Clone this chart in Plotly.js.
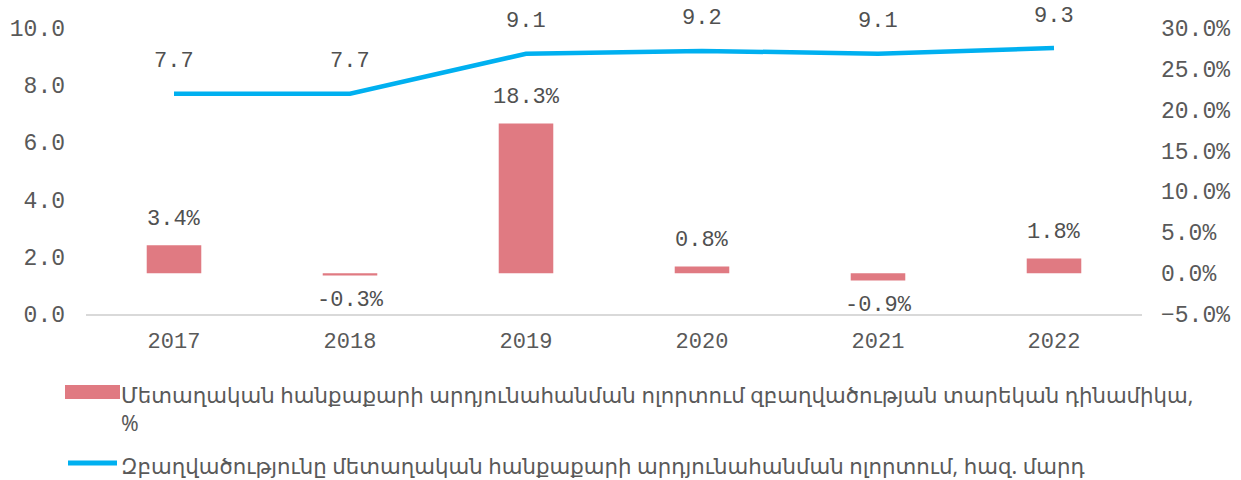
<!DOCTYPE html>
<html><head><meta charset="utf-8">
<script src="https://cdn.plot.ly/plotly-3.0.1.min.js"></script>
<style>html,body{margin:0;padding:0;background:#fff}#chart{width:1241px;height:480px}</style>
</head><body><div id="chart"></div>
<script>
const years = ['2017','2018','2019','2020','2021','2022'];
const dynamicsPct = [3.4, -0.3, 18.3, 0.8, -0.9, 1.8];
const employment = [7.7, 7.7, 9.1, 9.2, 9.1, 9.3];
const barName = 'Մետաղական հանքաքարի արդյունահանման ոլորտում զբաղվածության տարեկան դինամիկա,<br>%';
const lineName = 'Զբաղվածությունը մետաղական հանքաքարի արդյունահանման ոլորտում, հազ. մարդ';

const mono = 'Liberation Mono, Courier New, monospace';
const grey = '#595959';
const labelGrey = '#505050';
const barColor = '#E07A82';
const lineColor = '#00B0F0';

const L = 86, R = 99, T = 28, B = 166, W = 1241, H = 480;
const pw = W - L - R, ph = H - T - B;
const px = v => (v - L) / pw;
const py = v => (H - B - v) / ph;

const traces = [
  {type:'bar', x:years, y:dynamicsPct, yaxis:'y2', marker:{color:barColor}, width:0.31,
   showlegend:false, hoverinfo:'none'},
  {type:'scatter', mode:'lines', x:years, y:employment, line:{color:lineColor, width:4.5, shape:'linear'},
   showlegend:false, hoverinfo:'none'}
];

const annotations = employment.map((v,i)=>({x:i, y:v, xref:'x', yref:'y', text:v.toFixed(1),
  showarrow:false, yshift:32, font:{family:mono, size:22, color:labelGrey}}));

dynamicsPct.forEach((v,i)=>annotations.push({x:i, y:v, xref:'x', yref:'y2', text:v.toFixed(1)+'%',
  showarrow:false, yanchor:'middle', yshift: v >= 0 ? 26 : -25, font:{family:mono, size:22, color:labelGrey}}));

annotations.push({xref:'paper', yref:'paper', x:px(119), y:py(378), xanchor:'left', yanchor:'top', align:'left',
  text:barName, showarrow:false, font:{family:'Noto Sans, DejaVu Sans, sans-serif', size:21.3, color:grey}});
annotations.push({xref:'paper', yref:'paper', x:px(119), y:py(465), xanchor:'left', yanchor:'middle', align:'left',
  text:lineName, showarrow:false, font:{family:'Noto Sans, DejaVu Sans, sans-serif', size:21.3, color:grey}});

const shapes = [
  {type:'rect', xref:'paper', yref:'paper', x0:px(65), x1:px(120), y0:py(385), y1:py(399), fillcolor:barColor, line:{width:0}},
  {type:'line', xref:'paper', yref:'paper', x0:px(68), x1:px(117), y0:py(463), y1:py(463), line:{color:lineColor, width:5}}
];

const layout = {
  width:W, height:H, margin:{l:L, r:R, t:T, b:B},
  paper_bgcolor:'#fff', plot_bgcolor:'#fff', showlegend:false,
  xaxis:{type:'category', range:[-0.5,5.5], showgrid:false, zeroline:false, showline:true, linecolor:'#D9D9D9', linewidth:1.5,
    ticks:'', tickfont:{family:mono, size:22, color:grey}, ticklabelstandoff:6},
  yaxis:{range:[0,10], dtick:2, tickformat:'.1f', showgrid:false, zeroline:false, showline:false, ticks:'',
    tickfont:{family:mono, size:23, color:grey}, ticklabelstandoff:20},
  yaxis2:{range:[-5,30], dtick:5, tickformat:'.1f', ticksuffix:'%', overlaying:'y', side:'right', showgrid:false,
    zeroline:false, showline:false, ticks:'', tickfont:{family:mono, size:23, color:grey}, ticklabelstandoff:18},
  annotations, shapes
};
Plotly.newPlot('chart', traces, layout, {displayModeBar:false, staticPlot:true});
</script></body></html>
